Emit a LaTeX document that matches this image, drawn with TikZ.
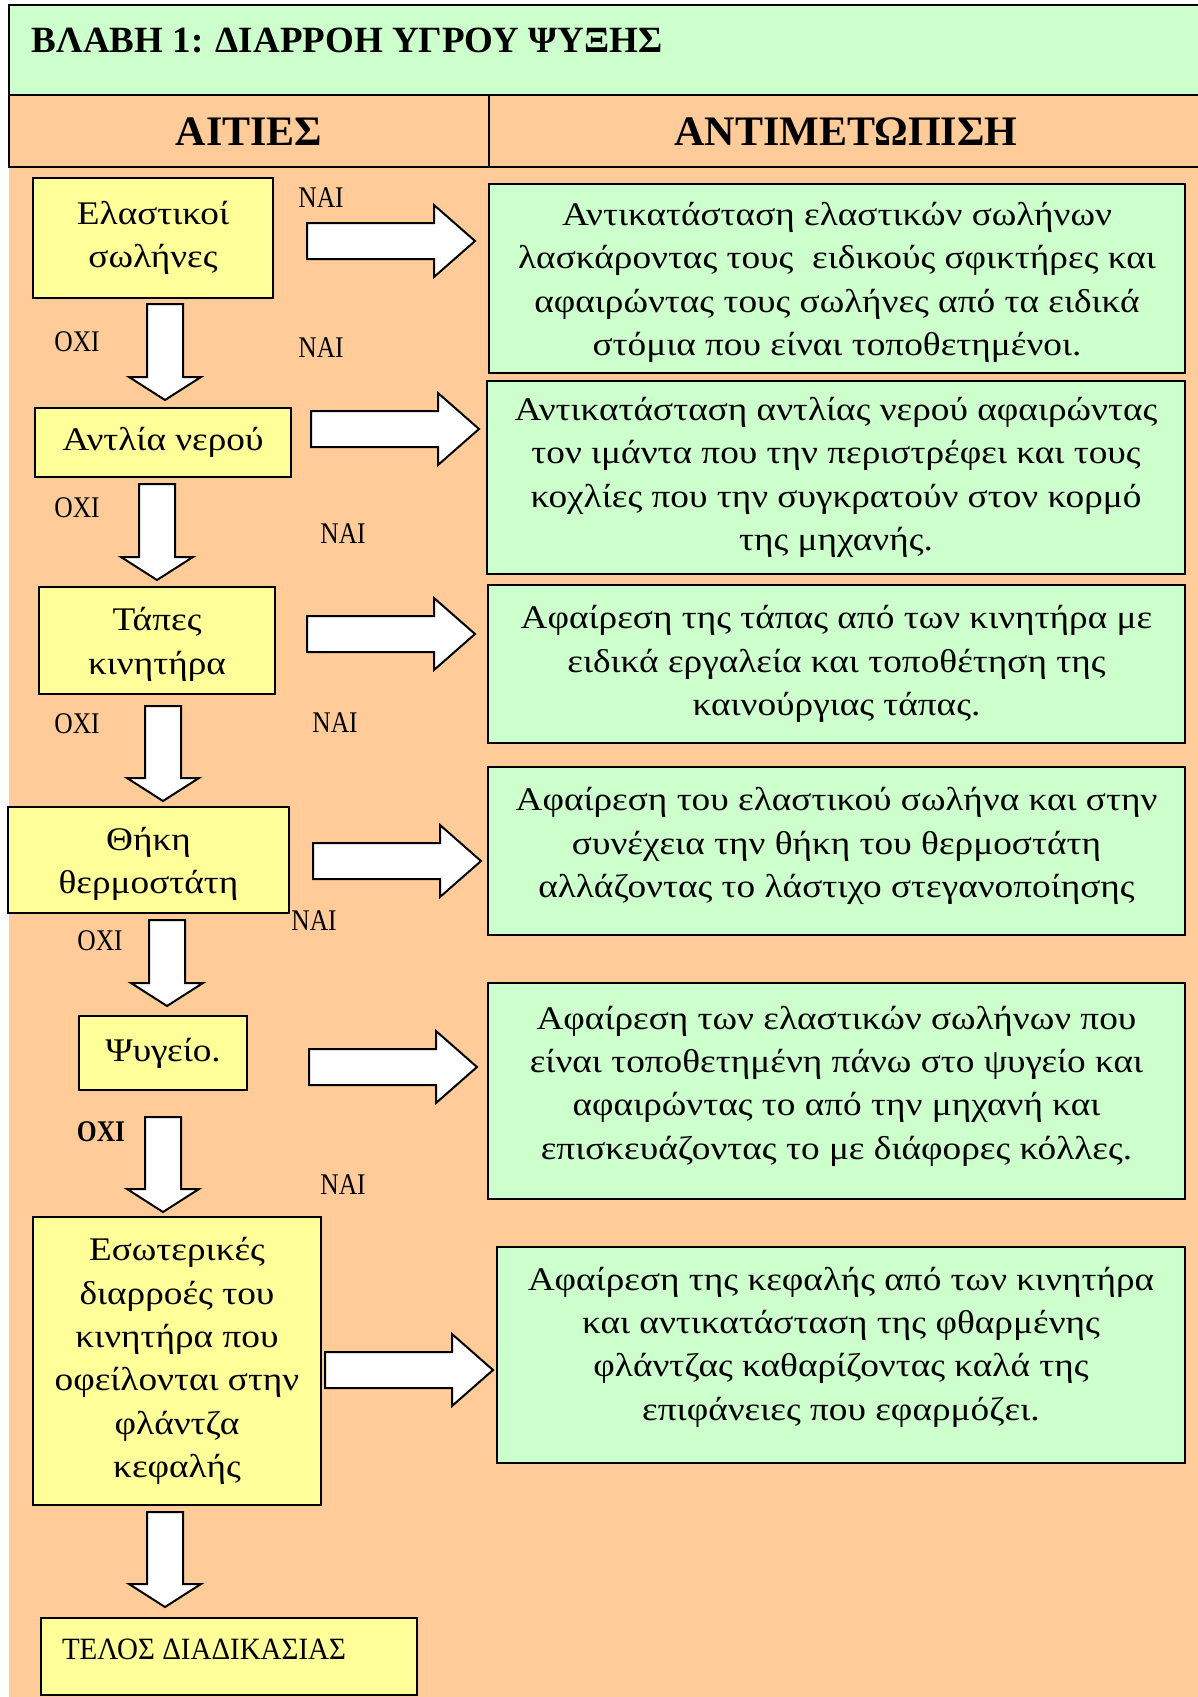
\documentclass[tikz,border=0pt]{standalone}
\usepackage{fontspec}
\setmainfont{Liberation Serif}
\newfontfamily\bodyfont[FakeStretch=1.13]{Liberation Serif}
\newfontfamily\lblfont[FakeStretch=0.85]{Liberation Serif}
\newfontfamily\closingfont[FakeStretch=0.935]{Liberation Serif}
\usetikzlibrary{calc}

\definecolor{mint}{HTML}{CCFFCC}
\definecolor{peach}{HTML}{FFCC99}
\definecolor{paleyellow}{HTML}{FFFF99}

\newcommand\bodyfs{\bodyfont\fontsize{16.5pt}{21.65pt}\selectfont}
\newcommand\lblfs{\lblfont\fontsize{15pt}{18pt}\selectfont}
\newcommand\closingfs{\closingfont\fontsize{15.5pt}{18pt}\selectfont}
\newcommand\titlefs{\fontsize{18.5pt}{22pt}\selectfont\bfseries}
\newcommand\headfs{\fontsize{21pt}{25pt}\selectfont\bfseries}

\tikzset{
  % a box given by its left, top, right and bottom edges (in px)
  span/.style n args={4}{at={(#1/2+#3/2,#2/2+#4/2)},
    minimum width=(#3-#1)*0.5pt, minimum height=(#4-#2)*0.5pt},
  cause/.style={draw=black, line width=1pt, fill=paleyellow, align=center, font=\bodyfs},
  remedy/.style={draw=black, line width=1pt, fill=mint, align=center, font=\bodyfs},
  txt/.style={align=center, font=\bodyfs},
  answer/.style={font=\lblfs},
  blockarrow/.style={draw=black, line width=1pt, fill=white, line join=miter},
  pics/downblock/.style={code={
    \path[blockarrow] (-18,0) -- (18,0) -- (18,#1-23) -- (36,#1-23) -- (0,#1)
      -- (-36,#1-23) -- (-18,#1-23) -- cycle;}},
  pics/rightblock/.style={code={
    \path[blockarrow] (0,-18) -- (127,-18) -- (127,-36) -- (168,0) -- (127,36)
      -- (127,18) -- (0,18) -- cycle;}},
}

\begin{document}
\begin{tikzpicture}[x=0.5pt,y=-0.5pt, every node/.style={inner sep=0pt, outer sep=0pt}]
\useasboundingbox (0,0) rectangle (1198,1697);
\clip (0,0) rectangle (1198,1697);

% page background
\fill[white] (0,0) rectangle (1198,1697);
\fill[peach] (9,167) rectangle (1220,1720);

% title bar and column headers
\node[span={9}{5}{1220}{95}, draw=black, line width=1pt, fill=mint] (titlebar) {};
\node[span={9}{95}{489}{167}, draw=black, line width=1pt, fill=peach] (headcause) {};
\node[span={489}{95}{1220}{167}, draw=black, line width=1pt, fill=peach] (headfix) {};
\node[anchor=west, font=\titlefs] (title) at (32,41) {ΒΛΑΒΗ 1: ΔΙΑΡΡΟΗ ΥΓΡΟΥ ΨΥΞΗΣ};
\node[font=\headfs] (hc) at (249,132) {ΑΙΤΙΕΣ};
\node[font=\headfs] (hf) at (846,132) {ΑΝΤΙΜΕΤΩΠΙΣΗ};

% causes
\node[cause, span={33}{178}{273}{298}] (c1) {Ελαστικοί\\σωλήνες};
\node[cause, span={35}{408}{291}{477}] (c2) {Αντλία νερού};
\node[cause, span={39}{587}{275}{694}] (c3) {};
\node[txt] (c3t) at ($(c3)+(0,4)$) {Τάπες\\κινητήρα};
\node[cause, span={8}{807}{289}{913}] (c4) {};
\node[txt] (c4t) at ($(c4)+(0,4)$) {Θήκη\\θερμοστάτη};
\node[cause, span={79}{1016}{247}{1090}] (c5) {Ψυγείο.};
\node[cause, span={33}{1217}{321}{1505}] (c6)
  {Εσωτερικές\\διαρροές του\\κινητήρα που\\οφείλονται στην\\φλάντζα\\κεφαλής};
\node[cause, span={41}{1618}{417}{1695}] (c7) {};
\node[font=\closingfs, anchor=west] (closing) at (62,1649) {ΤΕΛΟΣ ΔΙΑΔΙΚΑΣΙΑΣ};

% remedies
\node[remedy, span={489}{184}{1185}{373}] (r1) {};
\node[txt] (r1t) at ($(r1)+(0,4)$)
  {Αντικατάσταση ελαστικών σωλήνων\\λασκάροντας τους\ \ ειδικούς σφικτήρες και\\αφαιρώντας τους σωλήνες από τα ειδικά\\στόμια που είναι τοποθετημένοι.};
\node[remedy, span={487}{381}{1185}{574}] (r2)
  {Αντικατάσταση αντλίας νερού αφαιρώντας\\τον ιμάντα που την περιστρέφει και τους\\κοχλίες που την συγκρατούν στον κορμό\\της μηχανής.};
\node[remedy, span={488}{585}{1185}{743}] (r3)
  {Αφαίρεση της τάπας από των κινητήρα με\\ειδικά εργαλεία και τοποθέτηση της\\καινούργιας τάπας.};
\node[remedy, span={488}{767}{1185}{935}] (r4) {};
\node[txt] (r4t) at ($(r4)+(0,-5)$)
  {Αφαίρεση του ελαστικού σωλήνα και στην\\συνέχεια την θήκη του θερμοστάτη\\αλλάζοντας το λάστιχο στεγανοποίησης};
\node[remedy, span={488}{983}{1185}{1199}] (r5) {};
\node[txt] (r5t) at ($(r5)+(0,-5)$)
  {Αφαίρεση των ελαστικών σωλήνων που\\είναι τοποθετημένη πάνω στο ψυγείο και\\αφαιρώντας το από την μηχανή και\\επισκευάζοντας το με διάφορες κόλλες.};
\node[remedy, span={497}{1247}{1185}{1463}] (r6) {};
\node[txt] (r6t) at ($(r6)+(0,-8)$)
  {Αφαίρεση της κεφαλής από των κινητήρα\\και αντικατάσταση της φθαρμένης\\φλάντζας καθαρίζοντας καλά της\\επιφάνειες που εφαρμόζει.};

% "no" arrows, down the cause column
\pic (d1) at (165,304) {downblock=96};
\pic (d2) at (157,484) {downblock=96};
\pic (d3) at (163,706) {downblock=95};
\pic (d4) at (167,920) {downblock=86};
\pic (d5) at (163,1117) {downblock=95};
\pic (d6) at (165,1512) {downblock=95};

% "yes" arrows, from each cause to its remedy
\pic (a1) at (307,241) {rightblock};
\pic (a2) at (311,429) {rightblock};
\pic (a3) at (307,634) {rightblock};
\pic (a4) at (313,861) {rightblock};
\pic (a5) at (309,1067) {rightblock};
\pic (a6) at (325,1370) {rightblock};

% answers
\node[answer] (y1) at (321,198) {ΝΑΙ};
\node[answer] (y2) at (321,348) {ΝΑΙ};
\node[answer] (y3) at (343,534) {ΝΑΙ};
\node[answer] (y4) at (335,723) {ΝΑΙ};
\node[answer] (y5) at (314,921) {ΝΑΙ};
\node[answer] (y6) at (343,1185) {ΝΑΙ};
\node[answer] (n1) at (77,342) {ΟΧΙ};
\node[answer] (n2) at (77,508) {ΟΧΙ};
\node[answer] (n3) at (77,724) {ΟΧΙ};
\node[answer] (n4) at (100,941) {ΟΧΙ};
\node[answer, font=\lblfs\bfseries] (n5) at (101,1132) {ΟΧΙ};
\end{tikzpicture}
\end{document}
